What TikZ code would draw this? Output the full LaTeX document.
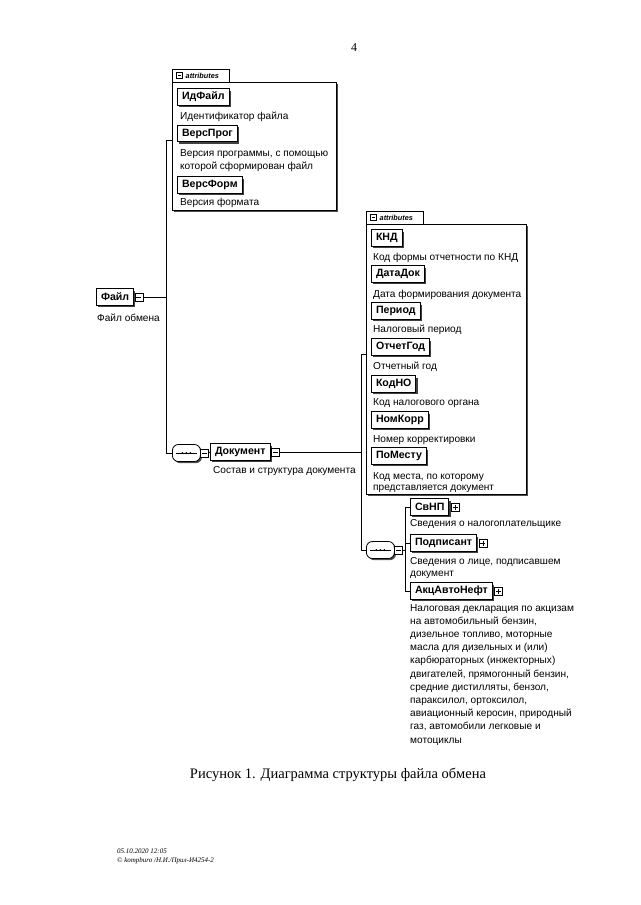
\documentclass[tikz,border=0pt]{standalone}
\usepackage{fontspec}
\setmainfont{Liberation Sans}
\newfontfamily\serifrm{Liberation Serif}
\usetikzlibrary{shadows}
\begin{document}
\begin{tikzpicture}[x=1pt,y=-1pt,
  conn/.style={line width=0.7pt},
  elem/.style={draw, line width=1pt, fill=white, anchor=west,
    font=\fontsize{10.6}{12}\bfseries\selectfont, inner xsep=4.5pt, inner ysep=0pt,
    minimum height=16.5pt,
    general shadow={fill=black!75, shadow xshift=1.8pt, shadow yshift=-1.8pt}},
  expm/.style={draw, fill=white, minimum size=8pt, inner sep=0pt, line width=0.6pt, anchor=west,
    path picture={\draw ([xshift=1.5pt]path picture bounding box.west) -- ([xshift=-1.5pt]path picture bounding box.east);}},
  expp/.style={expm, path picture={\draw ([xshift=1.5pt]path picture bounding box.west) -- ([xshift=-1.5pt]path picture bounding box.east);
    \draw ([yshift=-1.5pt]path picture bounding box.north) -- ([yshift=1.5pt]path picture bounding box.south);}},
  desc/.style={anchor=west, inner sep=0pt, font=\fontsize{10.1}{12}\selectfont},
  attrbox/.style={draw, line width=0.6pt, fill=white,
    general shadow={fill=black!70, shadow xshift=1.3pt, shadow yshift=-1.3pt}},
  tabtext/.style={anchor=west, inner sep=0pt, font=\fontsize{7.3}{8}\bfseries\itshape\selectfont},
  seq/.style={draw, line width=0.8pt, fill=white, rounded corners=6pt, minimum width=28pt,
    minimum height=17pt, inner sep=0pt, anchor=west,
    general shadow={fill=black!70, shadow xshift=1.6pt, shadow yshift=-1.6pt}},
  seqline/.style={line width=0.7pt},
  seqdot/.style={fill=black}
]
\useasboundingbox (0,0) rectangle (640,905);

% page number
\node[font=\serifrm\fontsize{12}{14}\selectfont] (pnum) at (354,48) {4};

% ---------- attributes box 1 ----------
\node[attrbox, anchor=north west, minimum width=164pt, minimum height=128pt, inner sep=0pt] (attr1) at (172,82) {};
\draw[line width=0.6pt] (172,82) -- (172,69) -- (229,69) -- (229,82);
\node[expm, minimum size=6.5pt, anchor=center] (t1x) at (179.5,75.5) {};
\node[tabtext] (t1) at (185.5,75.5) {attributes};
\coordinate (a1in) at (172,140);

\node[elem] (idf) at (177,97) {ИдФайл};
\node[desc] (idfd) at (180,117) {Идентификатор файла};
\node[elem] (vp) at (177,133.5) {ВерсПрог};
\node[desc] (vpd1) at (180,154) {Версия программы, с помощью};
\node[desc] (vpd2) at (180,167) {которой сформирован файл};
\node[elem] (vf) at (177,185) {ВерсФорм};
\node[desc] (vfd) at (180,203) {Версия формата};

% ---------- Файл ----------
\node[elem] (fajl) at (96,297) {Файл};
\node[expm] (fajlx) at ([xshift=0.5pt]fajl.east) {};
\node[desc] (fajld) at (97,318) {Файл обмена};
\coordinate (j1) at (166,297);
\coordinate (j1t) at (166,140);
\coordinate (j1b) at (166,453);
\draw[conn] (fajlx.east) -- (j1);
\draw[conn] (j1t) -- (j1b);
\draw[conn] (j1t) -- (a1in);

% ---------- sequence 1, Документ ----------
\node[seq] (seq1) at (172,453) {};
\draw[seqline] ([xshift=4pt]seq1.west) -- ([xshift=-4pt]seq1.east);
\foreach \d in {-4,0,4} \fill[seqdot] ([xshift=\d pt]seq1.center) circle (1.1pt);
\node[expm] (seq1x) at ([xshift=-0.5pt]seq1.east) {};
\draw[conn] (j1b) -- (seq1.west);
\node[elem] (doc) at (210,452) {Документ};
\node[expm] (docx) at ([xshift=0.5pt]doc.east) {};
\draw[conn] (seq1x.east) -- (doc.west);
\node[desc] (docd) at (213,471) {Состав и структура документа};
\coordinate (j2) at (361,452);
\coordinate (j2t) at (361,354);
\coordinate (j2b) at (361,550);
\draw[conn] (docx.east) -- (j2);
\draw[conn] (j2t) -- (j2b);

% ---------- attributes box 2 ----------
\node[attrbox, anchor=north west, minimum width=160pt, minimum height=270pt, inner sep=0pt] (attr2) at (366,224) {};
\draw[line width=0.6pt] (366,224) -- (366,211) -- (423,211) -- (423,224);
\node[expm, minimum size=6.5pt, anchor=center] (t2x) at (373.5,217.5) {};
\node[tabtext] (t2) at (379.5,217.5) {attributes};
\coordinate (a2in) at (366,354);
\draw[conn] (j2t) -- (a2in);

\node[elem] (knd) at (371,238) {КНД};
\node[desc] (kndd) at (373,258) {Код формы отчетности по КНД};
\node[elem] (dd) at (371,274) {ДатаДок};
\node[desc] (ddd) at (373,295) {Дата формирования документа};
\node[elem] (per) at (371,311) {Период};
\node[desc] (perd) at (373,330) {Налоговый период};
\node[elem] (og) at (371,347) {ОтчетГод};
\node[desc] (ogd) at (373,367) {Отчетный год};
\node[elem] (kno) at (371,384) {КодНО};
\node[desc] (knod) at (373,403) {Код налогового органа};
\node[elem] (nk) at (371,420) {НомКорр};
\node[desc] (nkd) at (373,440) {Номер корректировки};
\node[elem] (pm) at (371,456) {ПоМесту};
\node[desc] (pmd1) at (373,477) {Код места, по которому};
\node[desc] (pmd2) at (373,489) {представляется документ};

% ---------- sequence 2 ----------
\node[seq] (seq2) at (366,550) {};
\draw[seqline] ([xshift=4pt]seq2.west) -- ([xshift=-4pt]seq2.east);
\foreach \d in {-4,0,4} \fill[seqdot] ([xshift=\d pt]seq2.center) circle (1.1pt);
\node[expm] (seq2x) at ([xshift=-0.5pt]seq2.east) {};
\draw[conn] (j2b) -- (seq2.west);
\coordinate (j3) at (405,550);
\coordinate (j3t) at (405,507);
\coordinate (j3m) at (405,543);
\coordinate (j3b) at (405,591);
\draw[conn] (seq2x.east) -- (j3);
\draw[conn] (j3t) -- (j3b);

\node[elem] (svnp) at (410,507) {СвНП};
\node[expp] (svnpx) at ([xshift=1.5pt]svnp.east) {};
\draw[conn] (j3t) -- (svnp.west);
\node[desc] (svnpd) at (410,524) {Сведения о налогоплательщике};

\node[elem] (pod) at (410,543) {Подписант};
\node[expp] (podx) at ([xshift=1.5pt]pod.east) {};
\draw[conn] (j3m) -- (pod.west);
\node[desc] (podd1) at (410,562) {Сведения о лице, подписавшем};
\node[desc] (podd2) at (410,575) {документ};

\node[elem] (akc) at (410,591) {АкцАвтоНефт};
\node[expp] (akcx) at ([xshift=1.5pt]akc.east) {};
\draw[conn] (j3b) -- (akc.west);
\node[desc, anchor=north west, align=left, font=\fontsize{10.1}{13.2}\selectfont] (akcd) at (410,604) {Налоговая декларация по акцизам\\на автомобильный бензин,\\дизельное топливо, моторные\\масла для дизельных и (или)\\карбюраторных (инжекторных)\\двигателей, прямогонный бензин,\\средние дистилляты, бензол,\\параксилол, ортоксилол,\\авиационный керосин, природный\\газ, автомобили легковые и\\мотоциклы};

% ---------- caption & footer ----------
\node[font=\serifrm\fontsize{14.5}{17}\selectfont] (cap) at (338,775) {Рисунок 1. Диаграмма структуры файла обмена};
\node[anchor=west, inner sep=0pt, font=\serifrm\itshape\fontsize{7}{8}\selectfont] (f1) at (117,851) {05.10.2020 12:05};
\node[anchor=west, inner sep=0pt, font=\serifrm\itshape\fontsize{7}{8}\selectfont] (f2) at (117,861) {© kompburo /Н.И./Прил-И4254-2};
\end{tikzpicture}
\end{document}
